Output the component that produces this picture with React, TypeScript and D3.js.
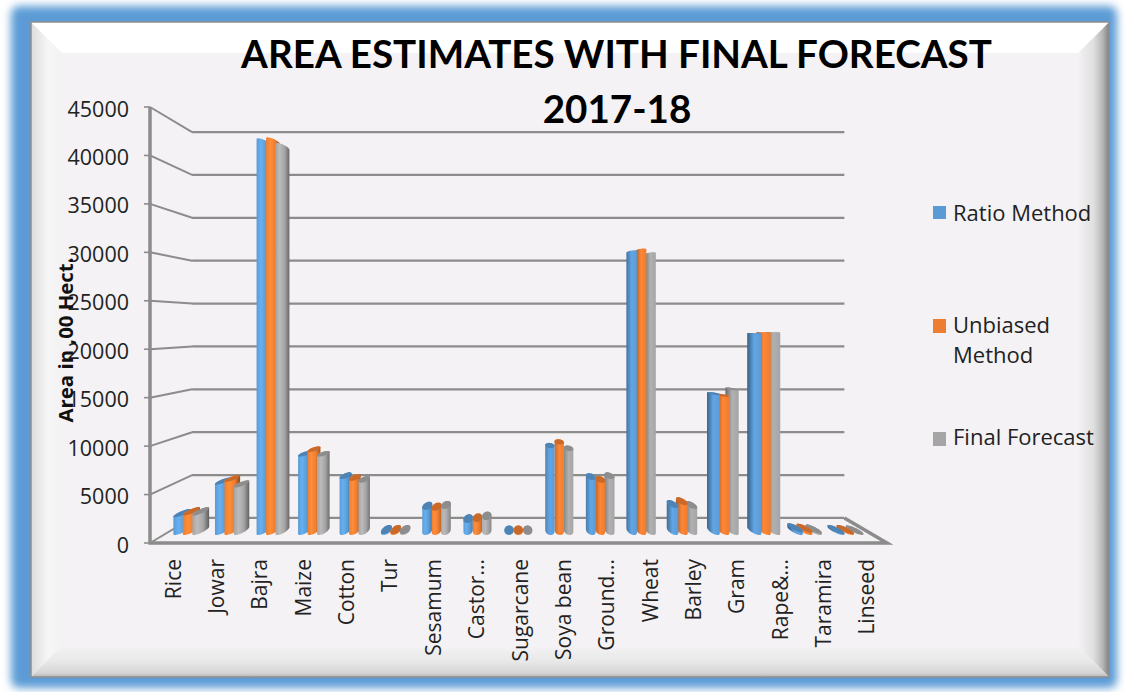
import React from 'react'
import * as d3 from 'd3'

const categories = ['Rice', 'Jowar', 'Bajra', 'Maize', 'Cotton', 'Tur', 'Sesamum', 'Castor...', 'Sugarcane', 'Soya bean', 'Ground...', 'Wheat', 'Barley', 'Gram', 'Rape&...', 'Taramira', 'Linseed']
const seriesNames = ['Ratio Method', 'Unbiased Method', 'Final Forecast']
const ratioMethod = [1900, 5400, 42500, 8400, 6000, 100, 2700, 1300, 50, 9300, 5900, 30500, 2900, 15000, 21600, 300, 100]
const unbiasedMethod = [2100, 5700, 42600, 8900, 5800, 100, 2600, 1400, 50, 9700, 5600, 30700, 3200, 14800, 21700, 250, 100]
const finalForecast = [2100, 5100, 42000, 8400, 5600, 100, 2800, 1600, 50, 9000, 6000, 30300, 2800, 15500, 21700, 150, 50]
const seriesValues = [ratioMethod, unbiasedMethod, finalForecast]
const seriesColors = ['#5B9BD5', '#ED7D31', '#A5A5A5']
const yTicks = d3.range(0, 45001, 5000)

const W = 1125
const H = 692
const FONT = '"Open Sans", Lato, sans-serif'

// vanishing point of the 3D box, the walls run towards it
const vp: [number, number] = [516, 325]
const backDepth = 0.115
const barDepth = 0.0575
const barDepthRadius = 0.021

const xFront = d3.scaleBand<string>().domain(categories).range([150, 887])
const yFront = d3.scaleLinear().domain([0, 45000]).range([543, 107])
const xSeries = d3.scaleLinear().domain([0, 2]).range([-9.9, 9.9])

const project = (x: number, y: number, z: number): [number, number] => [
  x + (vp[0] - x) * z,
  y + (vp[1] - y) * z,
]

const ring = (x: number, v: number) =>
  d3.range(0, 40).map(i => {
    const a = (i / 40) * Math.PI * 2
    return project(x + 4.9 * Math.cos(a), yFront(v), barDepth + barDepthRadius * Math.sin(a))
  })

const line = d3.line()
const closed = d3.line().curve(d3.curveLinearClosed)

const darker = (c: string, k: number) => d3.color(c)!.darker(k).formatHex()
const lighter = (c: string, k: number) => d3.color(c)!.brighter(k).formatHex()

const bars = categories.flatMap((cat, ci) =>
  seriesValues.map((vals, si) => {
    const x = xFront(cat)! + xFront.bandwidth() / 2 + xSeries(si)
    const v = vals[ci]
    const bottom = ring(x, 0)
    const top = ring(x, v)
    const hull = d3.polygonHull([...bottom, ...top])!
    return { id: `b${ci}-${si}`, ci, si, x, v, bottom, top, hull, color: seriesColors[si], left: x < vp[0] }
  })
)

// the bar nearer the middle of the chart hides the one beside it
const ordered = [
  ...bars.filter(b => b.left).sort((a, b) => a.ci - b.ci || a.si - b.si),
  ...bars.filter(b => !b.left).sort((a, b) => b.ci - a.ci || b.si - a.si),
]

const App: React.FC = () => {
  return (
    <svg width={W} height={H} style={{ position: 'absolute', left: 0, top: 0, background: '#fff' }} fontFamily={FONT}>
      <defs>
        <filter id="glow" x="-5%" y="-5%" width="110%" height="110%">
          <feGaussianBlur stdDeviation="4" />
        </filter>
        <filter id="soft" x="-2%" y="-2%" width="104%" height="104%">
          <feGaussianBlur stdDeviation="0.45" />
        </filter>
        <linearGradient id="bevelLeft" x1="0" x2="1" y1="0" y2="0">
          <stop offset="0" stopColor="#dcdcdc" />
          <stop offset="0.55" stopColor="#f6f6f6" />
          <stop offset="1" stopColor="#f4f2f4" />
        </linearGradient>
        <linearGradient id="bevelRight" x1="1" x2="0" y1="0" y2="0">
          <stop offset="0" stopColor="#808080" />
          <stop offset="0.2" stopColor="#b5b5b5" />
          <stop offset="0.5" stopColor="#e0e0e0" />
          <stop offset="1" stopColor="#f4f2f4" />
        </linearGradient>
        <linearGradient id="bevelBottom" x1="0" x2="0" y1="1" y2="0">
          <stop offset="0" stopColor="#b8b8b8" />
          <stop offset="0.15" stopColor="#d6d6d6" />
          <stop offset="0.5" stopColor="#e8e8e8" />
          <stop offset="1" stopColor="#f4f2f4" />
        </linearGradient>
        {bars.map(b => {
          const shade = Math.min(1, Math.abs(b.x - vp[0]) / 330)
          const base = b.color
          return (
            <linearGradient key={b.id} id={b.id} x1="0" x2="1" y1="0" y2="0">
              {b.left ? (
                <>
                  <stop offset="0" stopColor={base} />
                  <stop offset="0.3" stopColor={lighter(base, 0.35)} />
                  <stop offset="0.65" stopColor={base} />
                  <stop offset="1" stopColor={darker(base, 0.4 + 1.2 * shade)} />
                </>
              ) : (
                <>
                  <stop offset="0" stopColor={darker(base, 0.3 + 1.4 * shade)} />
                  <stop offset="0.5" stopColor={lighter(base, 0.2)} />
                  <stop offset="1" stopColor={base} />
                </>
              )}
            </linearGradient>
          )
        })}
      </defs>

      {/* blue glowing frame */}
      <rect x={11} y={6} width={1106} height={682} rx={8} fill="#5B9BD5" filter="url(#glow)" />

      {/* bevelled panel */}
      <rect x={31} y={22} width={1078} height={655} fill="#F4F2F4" />
      <path d="M31,22 L62,53 L62,646 L31,677 Z" fill="url(#bevelLeft)" />
      <path d="M1109,22 L1078,53 L1078,646 L1109,677 Z" fill="url(#bevelRight)" />
      <path d="M31,677 L62,646 L1078,646 L1109,677 Z" fill="url(#bevelBottom)" />
      <path d="M31,22 L1109,22 L1078,53 L62,53 Z" fill="#ffffff" />
      <rect x={31} y={22} width={1078} height={655} fill="none" stroke="#8f8f8f" strokeWidth={1.5} />

      <g filter="url(#soft)">
        {/* walls and floor */}
        {yTicks.map(t => {
          const y = yFront(t)
          const [bx, by] = project(150, y, backDepth)
          const [ex] = project(887, y, backDepth)
          return (
            <g key={t} stroke="#8c8c8c" fill="none">
              <path d={line([[150, y], [bx, by]])!} strokeWidth={2} />
              <path d={line([[bx, by], [ex, by]])!} strokeWidth={2.2} />
              <path d={line([[144, y], [150, y]])!} strokeWidth={1.6} />
            </g>
          )
        })}
        <path
          d={line([[150, 107], [150, 543], [887, 543], project(887, yFront(0), backDepth)])!}
          fill="none"
          stroke="#8c8c8c"
          strokeWidth={3.5}
        />

        {/* cylinders */}
        {ordered.map(b => (
          <g key={b.id}>
            <path d={closed(b.hull)!} fill={`url(#${b.id})`} />
            {b.top[10][1] > vp[1] && <path d={closed(b.top)!} fill={darker(b.color, 0.45)} />}
          </g>
        ))}
      </g>

      {/* y axis labels */}
      {yTicks.map(t => (
        <text key={t} x={129} y={yFront(t) + 9.5} textAnchor="end" fontSize={21.5} fill="#222">
          {t}
        </text>
      ))}
      <text
        transform="translate(73,340) rotate(-90)"
        textAnchor="middle"
        fontSize={20}
        fontWeight={700}
        fill="#111"
        textLength={165}
        lengthAdjust="spacingAndGlyphs"
      >
        Area in ,00 Hect.
      </text>

      {/* category labels */}
      {categories.map(c => (
        <text
          key={c}
          transform={`translate(${xFront(c)! + xFront.bandwidth() / 2 + 9},559) rotate(-90)`}
          textAnchor="end"
          fontSize={21}
          fill="#222"
        >
          {c}
        </text>
      ))}

      {/* legend */}
      <rect x={933} y={206} width={13} height={13} fill={seriesColors[0]} />
      <text x={953} y={221} fontSize={22} fill="#222">{seriesNames[0]}</text>
      <rect x={933} y={319} width={13} height={14} fill={seriesColors[1]} />
      <text x={953} y={333} fontSize={22} fill="#222">Unbiased</text>
      <text x={953} y={363} fontSize={22} fill="#222">Method</text>
      <rect x={933} y={432} width={13} height={14} fill={seriesColors[2]} />
      <text x={953} y={445} fontSize={22} fill="#222">{seriesNames[2]}</text>

      {/* title */}
      <text x={616.5} y={68} textAnchor="middle" fontSize={38.6} fontWeight={700} fontFamily="Lato, sans-serif" fill="#000">
        AREA ESTIMATES WITH FINAL FORECAST
      </text>
      <text x={617} y={123} textAnchor="middle" fontSize={38.6} fontWeight={700} fontFamily="Lato, sans-serif" fill="#000">
        2017-18
      </text>
    </svg>
  )
}

export default App
